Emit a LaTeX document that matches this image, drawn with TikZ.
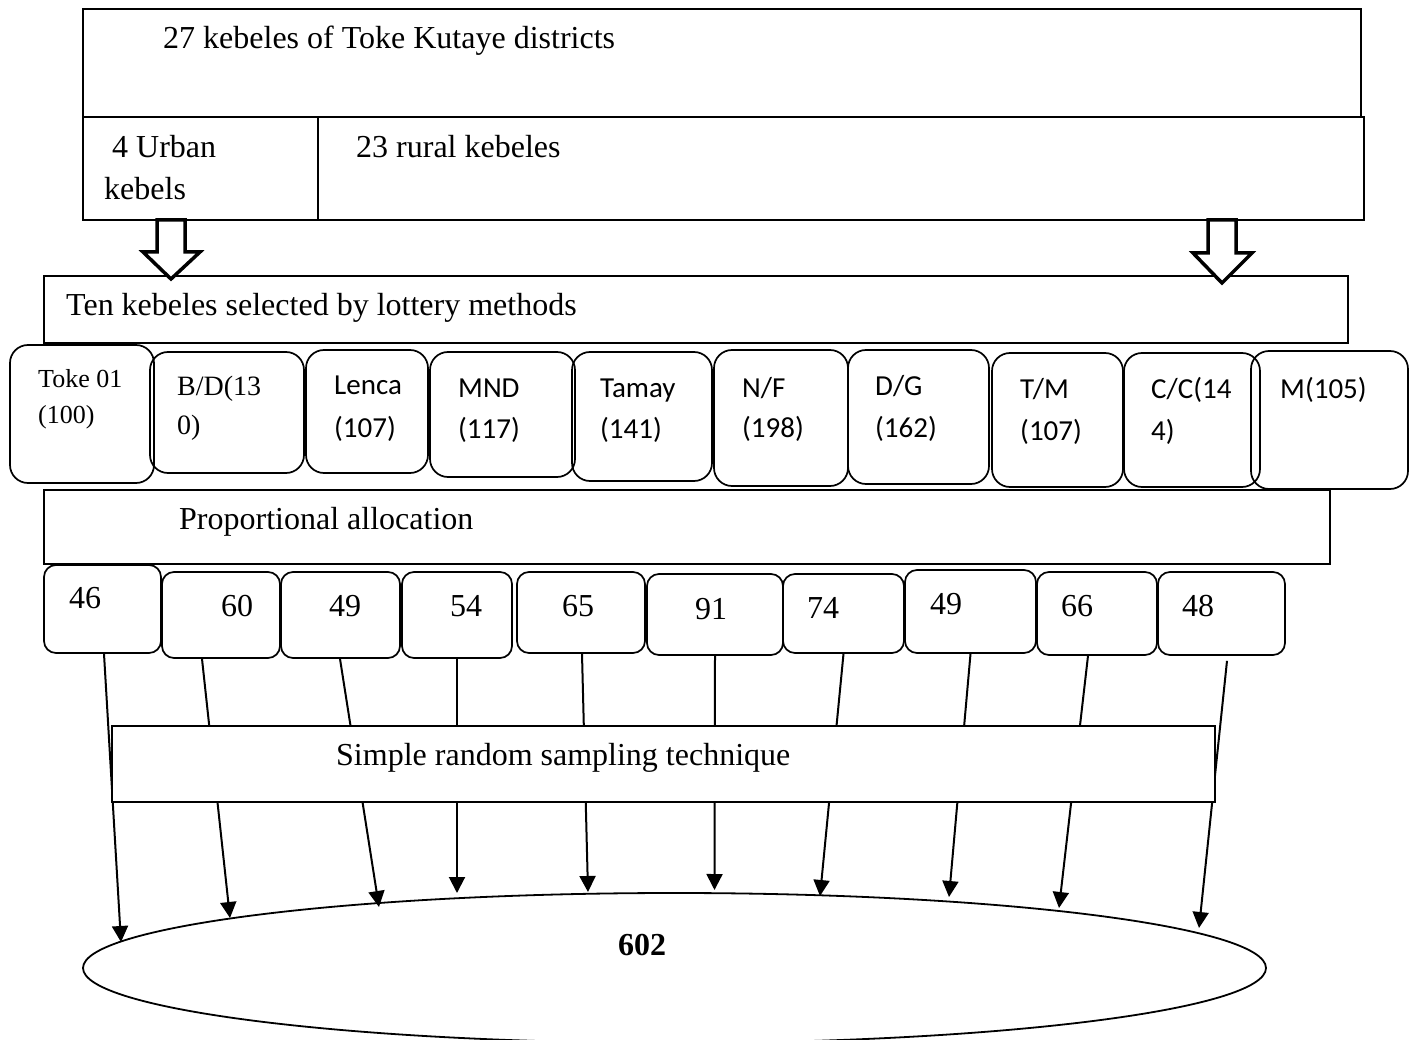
\documentclass[tikz,border=0pt]{standalone}
\usepackage{fontspec}
\setmainfont{Liberation Serif}
\newfontfamily\calibrifont{Carlito}
\usetikzlibrary{arrows.meta,fit,shapes.geometric}

\begin{document}
\begin{tikzpicture}[x=1pt,y=-1pt,
  box/.style={draw, line width=1.7pt, inner sep=0pt},
  wbox/.style={box, fill=white},
  rbox/.style={box, rounded corners=18pt},
  nbox/.style={box, rounded corners=12pt},
  txt/.style={anchor=base west, inner sep=0pt, font=\fontsize{32}{38}\selectfont},
  smalltxt/.style={txt, font=\fontsize{26}{30}\selectfont},
  midtxt/.style={txt, font=\fontsize{28}{32}\selectfont},
  cal/.style={txt, font=\calibrifont\fontsize{29}{34}\selectfont},
  conn/.style={line width=2pt, -{Triangle[width=16pt,length=16pt]}},
  hollow/.style={draw, line width=3.5pt, fill=white, line join=miter}
]
\fill[white] (0,0) rectangle (1413,1040);
\useasboundingbox (0,0) rectangle (1413,1040);

% district and its urban / rural split
\node[box, fit={(83,9) (1361,117)}] (district) {};
\node[box, fit={(83,117) (318,220)}] (urban) {};
\node[box, fit={(318,117) (1364,220)}] (rural) {};
\node[txt] (districtlbl) at (163,49) {27 kebeles of Toke Kutaye districts};
\node[txt] (urbanlbl1) at (112,158) {4 Urban};
\node[txt] (urbanlbl2) at (104,200) {kebels};
\node[txt] (rurallbl) at (356,158) {23 rural kebeles};

% lottery selection
\node[box, fit={(44,276) (1348,343)}] (lottery) {};
\node[txt] (lotterylbl) at (66,316) {Ten kebeles selected by lottery methods};

% hollow block arrows
\draw[hollow] (157,220) -- (157,252) -- (143,252) -- (171,279) -- (200,252) -- (185,252) -- (185,220) -- cycle;
\draw[hollow] (1208,220) -- (1208,253) -- (1193,253) -- (1222,283) -- (1252,253) -- (1236,253) -- (1236,220) -- cycle;

% selected kebeles
\node[rbox, fit={(10,345) (154,483)}] (k1) {};
\node[rbox, fit={(150,352) (304,473)}] (k2) {};
\node[rbox, fit={(306,350) (428,473)}] (k3) {};
\node[rbox, fit={(430,352) (575,477)}] (k4) {};
\node[rbox, fit={(572,352) (712,481)}] (k5) {};
\node[rbox, fit={(714,350) (848,486)}] (k6) {};
\node[rbox, fit={(848,350) (989,484)}] (k7) {};
\node[rbox, fit={(992,353) (1123,487)}] (k8) {};
\node[rbox, fit={(1124,353) (1260,487)}] (k9) {};
\node[rbox, fit={(1251,351) (1408,489)}] (k10) {};

\node[smalltxt] (k1a) at (38,387) {Toke 01};
\node[smalltxt] (k1b) at (38,423) {(100)};
\node[midtxt] (k2a) at (177,395) {B/D(13};
\node[midtxt] (k2b) at (177,434) {0)};
\node[cal] (k3a) at (334,394) {Lenca};
\node[cal] (k3b) at (334,437) {(107)};
\node[cal] (k4a) at (458,397) {MND};
\node[cal] (k4b) at (458,438) {(117)};
\node[cal] (k5a) at (600,397) {Tamay};
\node[cal] (k5b) at (600,438) {(141)};
\node[cal] (k6a) at (742,397) {N/F};
\node[cal] (k6b) at (742,437) {(198)};
\node[cal] (k7a) at (875,395) {D/G};
\node[cal] (k7b) at (875,437) {(162)};
\node[cal] (k8a) at (1020,398) {T/M};
\node[cal] (k8b) at (1020,440) {(107)};
\node[cal] (k9a) at (1151,399) {C/C(14};
\node[cal] (k9b) at (1151,440) {4)};
\node[cal] (k10a) at (1280,398) {M(105)};

% proportional allocation
\node[box, fit={(44,490) (1330,564)}] (alloc) {};
\node[txt] (alloclbl) at (179,529) {Proportional allocation};

% sample sizes per kebele
\node[nbox, fit={(44,565) (161,653)}] (n1) {};
\node[nbox, fit={(162,572) (280,658)}] (n2) {};
\node[nbox, fit={(281,572) (400,658)}] (n3) {};
\node[nbox, fit={(402,572) (512,658)}] (n4) {};
\node[nbox, fit={(517,572) (645,653)}] (n5) {};
\node[nbox, fit={(647,574) (783,655)}] (n6) {};
\node[nbox, fit={(783,574) (904,653)}] (n7) {};
\node[nbox, fit={(905,570) (1036,653)}] (n8) {};
\node[nbox, fit={(1037,572) (1157,655)}] (n9) {};
\node[nbox, fit={(1158,572) (1285,655)}] (n10) {};

\node[txt] (n1l) at (69,608) {46};
\node[txt] (n2l) at (221,616) {60};
\node[txt] (n3l) at (329,616) {49};
\node[txt] (n4l) at (450,616) {54};
\node[txt] (n5l) at (562,616) {65};
\node[txt] (n6l) at (695,619) {91};
\node[txt] (n7l) at (807,618) {74};
\node[txt] (n8l) at (930,614) {49};
\node[txt] (n9l) at (1061,616) {66};
\node[txt] (n10l) at (1182,616) {48};

% total sample
\node[draw, ellipse, line width=1.8pt, inner sep=0pt,
      minimum width=1183pt, minimum height=150pt] (total) at (674.5,968) {};
\node[txt, font=\bfseries\fontsize{32}{38}\selectfont] (totallbl) at (618,955) {602};

\coordinate (t1) at (121,942);
\coordinate (t2) at (230,918);
\coordinate (t3) at (379,907);
\coordinate (t4) at (457,893);
\coordinate (t5) at (588,892);
\coordinate (t6) at (714.5,890);
\coordinate (t7) at (820,896);
\coordinate (t8) at (949,897);
\coordinate (t9) at (1059,908);
\coordinate (t10) at (1199,928);

\draw[conn] ([xshift=1.5pt]n1.south) -- (t1);
\draw[conn] ([xshift=-19pt]n2.south) -- (t2);
\draw[conn] ([xshift=-0.5pt]n3.south) -- (t3);
\draw[conn] (n4.south) -- (t4);
\draw[conn] ([xshift=1pt]n5.south) -- (t5);
\draw[conn] (n6.south) -- (t6);
\draw[conn] (n7.south) -- (t7);
\draw[conn] (n8.south) -- (t8);
\draw[conn] ([xshift=-9pt]n9.south) -- (t9);
\draw[conn] ([xshift=5.5pt,yshift=-5pt]n10.south) -- (t10);

% sampling step, laid over the connectors
\node[wbox, fit={(112,726) (1215,802)}] (srs) {};
\node[txt] (srslbl) at (336,765) {Simple random sampling technique};
\end{tikzpicture}
\end{document}
